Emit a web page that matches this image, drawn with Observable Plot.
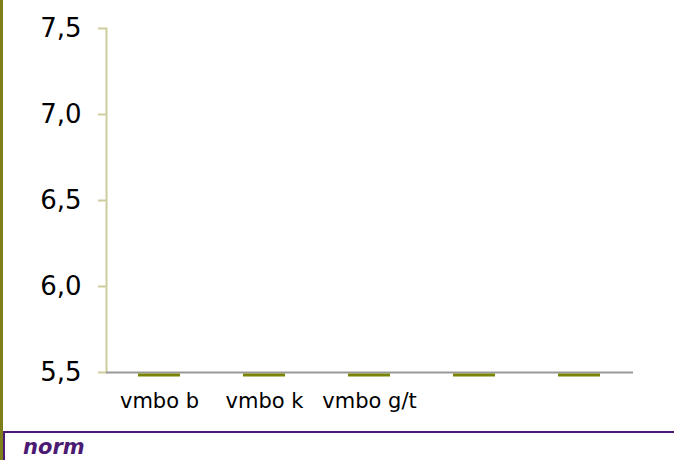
<!DOCTYPE html>
<html>
<head>
<meta charset="utf-8">
<script src="https://cdn.jsdelivr.net/npm/d3@7"></script>
<script src="https://cdn.jsdelivr.net/npm/@observablehq/plot@0.6"></script>
<style>
  html, body { margin: 0; padding: 0; background: #fff; }
  body { width: 674px; height: 460px; overflow: hidden; position: relative; font-family: "DejaVu Sans", Verdana, sans-serif; }
  #stripe { position: absolute; left: 0; top: 0; width: 3px; height: 460px; background: #7f7f1a; }
  #chart { position: absolute; left: 0; top: 0; }
  #legend { position: absolute; left: 3px; top: 431px; width: 671px; height: 29px; border-top: 2px solid #4b1a72; border-left: 2px solid #4b1a72; box-sizing: border-box; }
  #legend span { position: absolute; left: 18px; top: 2px; font-size: 21px; font-weight: bold; font-style: italic; color: #4b1a72; }
</style>
</head>
<body>
<div id="stripe"></div>
<div id="chart"></div>
<div id="legend"><span>norm</span></div>
<script>
const categories = ["c1", "c2", "c3", "c4", "c5"];
const tickLabels = ["vmbo b", "vmbo k", "vmbo g/t", "", ""];
const normValues = [5.5, 5.5, 5.5, 5.5, 5.5];
const yTicks = [5.5, 6.0, 6.5, 7.0, 7.5];

const data = categories.map((c, i) => ({cat: c, value: normValues[i]}));
const fmt = v => v.toFixed(1).replace(".", ",");

const chart = Plot.plot({
  width: 674,
  height: 420,
  marginLeft: 106,
  marginRight: 41,
  marginTop: 28,
  marginBottom: 48,
  style: {fontFamily: "DejaVu Sans, Verdana, sans-serif", background: "transparent"},
  x: {domain: categories, paddingInner: 0.6, paddingOuter: 0.3, align: 0.5, label: null},
  y: {domain: [5.5, 7.5], label: null},
  marks: [
    Plot.axisY({ticks: yTicks, tickFormat: fmt, tickSize: 8, tickPadding: 17, stroke: "#cdcd9e", strokeWidth: 2, fill: "#000", fontSize: 26, label: null}),
    Plot.frame({anchor: "left", stroke: "#cdcd9e", strokeWidth: 2}),
    Plot.axisX({tickSize: 0, tickPadding: 21, tickFormat: (d, i) => tickLabels[categories.indexOf(d)], fontSize: 21, fill: "#000", label: null}),
    Plot.ruleY([5.5], {stroke: "#999999", strokeWidth: 2}),
    Plot.tickY(data, {x: "cat", y: "value", stroke: "#7a8505", strokeWidth: 3, dy: 2.5})
  ]
});
document.getElementById("chart").appendChild(chart);
</script>
</body>
</html>
